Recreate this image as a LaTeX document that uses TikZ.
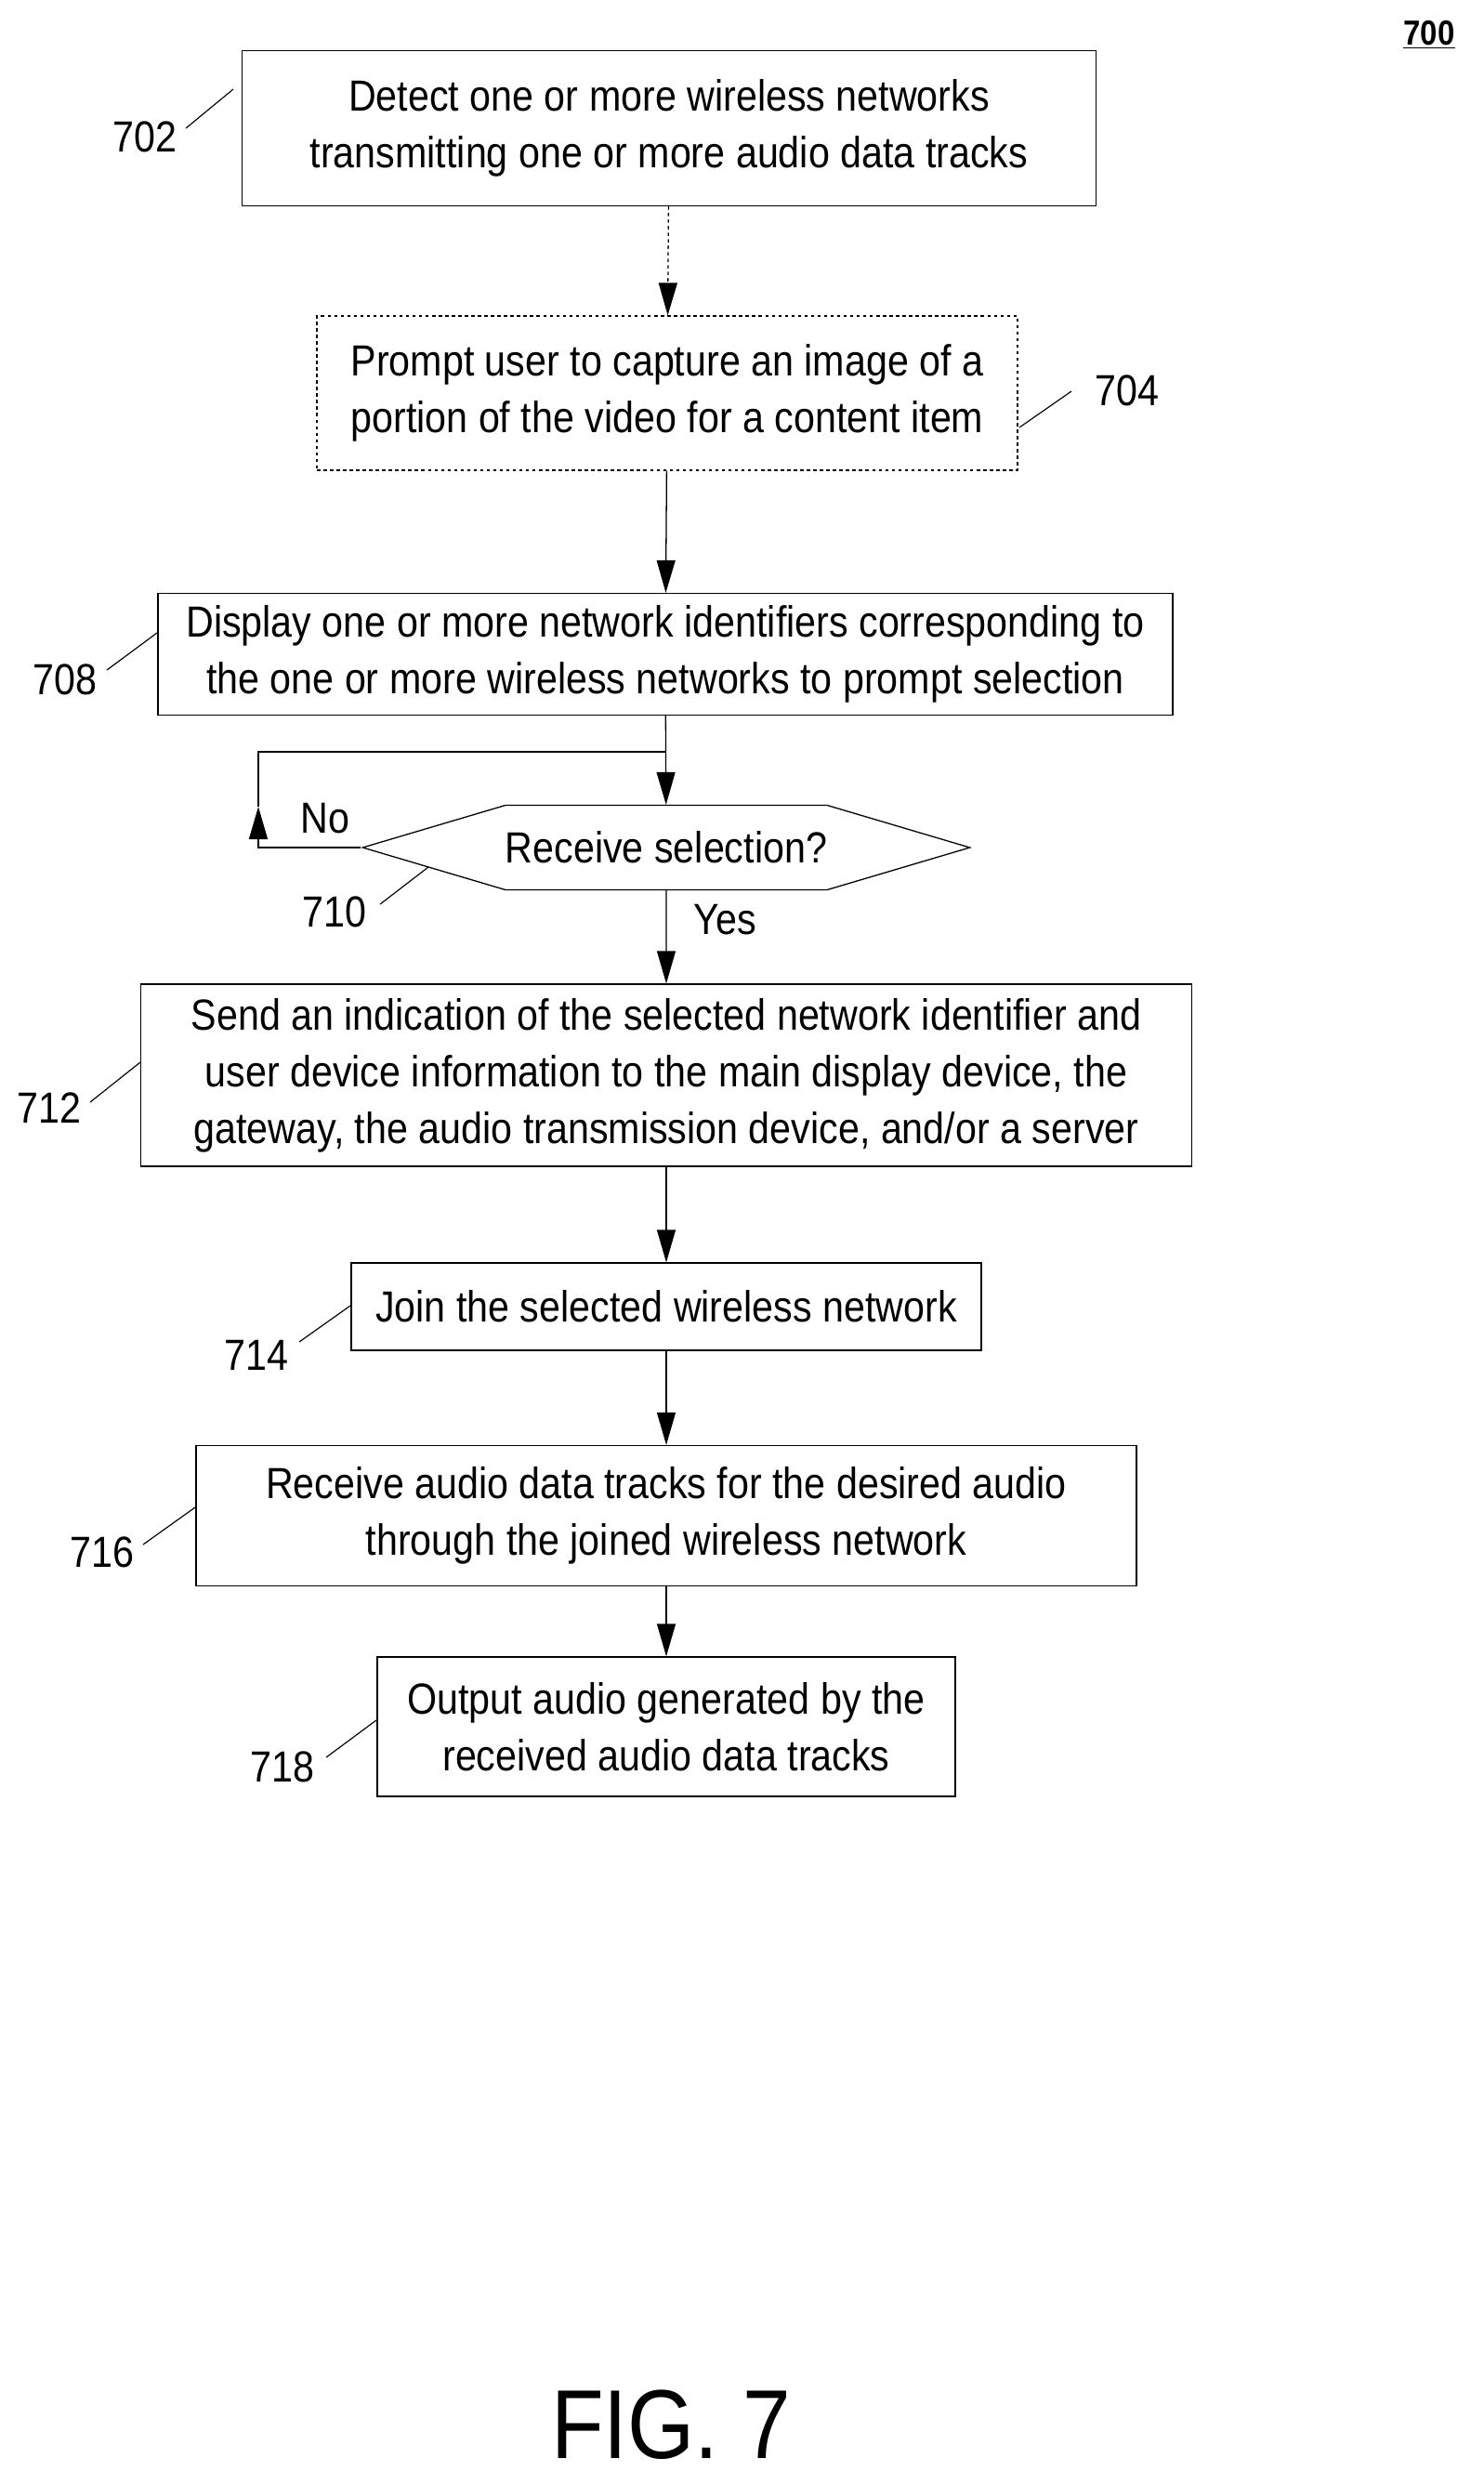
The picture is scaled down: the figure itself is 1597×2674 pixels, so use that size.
\documentclass[tikz,border=0pt]{standalone}
\usepackage{fontspec}
\setmainfont[FakeStretch=0.88]{Liberation Sans}
\usetikzlibrary{arrows.meta,shapes.symbols}

\begin{document}
\begin{tikzpicture}[x=0.03cm,y=-0.03cm,
      >={Triangle[length=1.05cm,width=0.6cm]},line width=1.1pt,
      font=\fontsize{40}{52}\selectfont,
      box/.style={draw,rectangle,align=center,inner sep=0pt},
      lbl/.style={font=\fontsize{40}{42}\selectfont},
      lead/.style={line width=1pt}]
    \useasboundingbox (0,0) rectangle (1597,2674);
    \node[font=\bfseries\fontsize{32}{34}\selectfont] (n700) at (1538,37) {\underline{700}};
    \node[box, minimum width=919*0.03cm, minimum height=167*0.03cm] (b702) at (720,138)
      {Detect one or more wireless networks\\transmitting one or more audio data tracks};
    \node[box, dashed, minimum width=754*0.03cm, minimum height=166*0.03cm] (b704) at (718,423)
      {Prompt user to capture an image of a\\portion of the video for a content item};
    \node[box, minimum width=1092*0.03cm, minimum height=131*0.03cm] (b708) at (716,704)
      {Display one or more network identifiers corresponding to\\the one or more wireless networks to prompt selection};
    \node[draw, shape=signal, signal to=west and east, signal pointer angle=33,
      minimum width=630*0.03cm, minimum height=91*0.03cm, inner sep=0pt] (d710) at (717,912)
      {Receive selection?};
    \node[box, minimum width=1131*0.03cm, minimum height=196*0.03cm] (b712) at (717,1157)
      {Send an indication of the selected network identifier and\\user device information to the main display device, the\\gateway, the audio transmission device, and/or a server};
    \node[box, minimum width=678*0.03cm, minimum height=94*0.03cm] (b714) at (717,1406)
      {Join the selected wireless network};
    \node[box, minimum width=1012*0.03cm, minimum height=151*0.03cm] (b716) at (717,1631)
      {Receive audio data tracks for the desired audio\\through the joined wireless network};
    \node[box, minimum width=622*0.03cm, minimum height=150*0.03cm] (b718) at (717,1858)
      {Output audio generated by the\\received audio data tracks};
    \node[font=\fontsize{90}{90}\selectfont] (fig) at (722,2609) {FIG. 7};
    % reference labels
    \node[lbl] (l702) at (156,147) {702};
    \node[lbl] (l704) at (1213,420) {704};
    \node[lbl] (l708) at (70,731) {708};
    \node[lbl] (l710) at (360,981) {710};
    \node[lbl] (l712) at (53,1192) {712};
    \node[lbl] (l714) at (276,1458) {714};
    \node[lbl] (l716) at (110,1670) {716};
    \node[lbl] (l718) at (304,1901) {718};
    \node[lbl] (no) at (350,881) {No};
    \node[lbl] (yes) at (780,990) {Yes};
    \coordinate (a702) at (200,138); \coordinate (c702) at (251,96);
    \coordinate (a704) at (1097,460); \coordinate (c704) at (1153,421);
    \coordinate (a708) at (115,721); \coordinate (c708) at (169,681);
    \coordinate (a710) at (409,973); \coordinate (c710) at (461,933);
    \coordinate (a712) at (97,1186); \coordinate (c712) at (151,1143);
    \coordinate (a714) at (322,1444); \coordinate (c714) at (377,1405);
    \coordinate (a716) at (154,1662); \coordinate (c716) at (210,1622);
    \coordinate (a718) at (351,1891); \coordinate (c718) at (405,1851);
    \foreach \n in {702,704,708,710,712,714,716,718}
      \draw[lead] (a\n) -- (c\n);
    % flow
    \coordinate (join) at (717,809);
    \coordinate (loop) at (278,809);
    \coordinate (up) at (278,868);
    \draw[->, dashed] (b702) -- (b704);
    \draw[->] (b704) -- (b708);
    \draw[->] (b708) -- (d710);
    \draw[->] (d710.west) -| (up);
    \draw (up) -- (loop) -- (join);
    \draw[->] (d710) -- (b712);
    \draw[->] (b712) -- (b714);
    \draw[->] (b714) -- (b716);
    \draw[->] (b716) -- (b718);
\end{tikzpicture}
\end{document}
